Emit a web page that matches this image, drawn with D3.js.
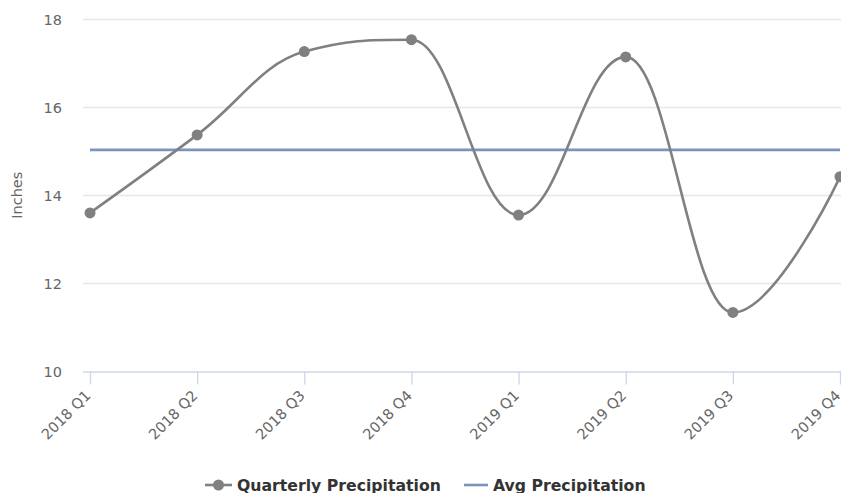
<!DOCTYPE html>
<html>
<head>
<meta charset="utf-8">
<script src="https://cdn.jsdelivr.net/npm/d3@7"></script>
<style>
  html, body { margin: 0; padding: 0; background: #fff; }
  svg { display: block; font-family: "DejaVu Sans", "Lucida Grande", sans-serif; }
</style>
</head>
<body>
<svg id="chart" width="841" height="493"></svg>
<script>
// ---- data ----
const categories = ["2018 Q1", "2018 Q2", "2018 Q3", "2018 Q4", "2019 Q1", "2019 Q2", "2019 Q3", "2019 Q4"];
const quarterlyPrecipitation = [13.6, 15.37, 17.26, 17.53, 13.55, 17.14, 11.34, 14.42];
const avgPrecipitation = [15.03, 15.03, 15.03, 15.03, 15.03, 15.03, 15.03, 15.03];
const yTicks = [10, 12, 14, 16, 18];
const seriesNames = ["Quarterly Precipitation", "Avg Precipitation"];
const yTitle = "Inches";

// ---- Highcharts-like spline curve ----
function HCSpline(context) { this._context = context; }
HCSpline.prototype = {
  areaStart() {}, areaEnd() {},
  lineStart() { this._pts = []; },
  point(x, y) { this._pts.push([+x, +y]); },
  lineEnd() {
    const p = this._pts, n = p.length, ctx = this._context;
    if (!n) return;
    const smoothing = 1.5, denom = smoothing + 1;
    const lc = p.map(d => d.slice()), rc = p.map(d => d.slice());
    for (let i = 1; i < n - 1; i++) {
      const [x, y] = p[i], [lx, ly] = p[i - 1], [nx, ny] = p[i + 1];
      let lcx = (smoothing * x + lx) / denom, lcy = (smoothing * y + ly) / denom;
      let rcx = (smoothing * x + nx) / denom, rcy = (smoothing * y + ny) / denom;
      let corr = 0;
      if (rcx !== lcx) corr = ((rcy - lcy) * (rcx - x)) / (rcx - lcx) + y - rcy;
      lcy += corr; rcy += corr;
      if (lcy > ly && lcy > y) { lcy = Math.max(ly, y); rcy = 2 * y - lcy; }
      else if (lcy < ly && lcy < y) { lcy = Math.min(ly, y); rcy = 2 * y - lcy; }
      if (rcy > ny && rcy > y) { rcy = Math.max(ny, y); lcy = 2 * y - rcy; }
      else if (rcy < ny && rcy < y) { rcy = Math.min(ny, y); lcy = 2 * y - rcy; }
      lc[i] = [lcx, lcy]; rc[i] = [rcx, rcy];
    }
    ctx.moveTo(p[0][0], p[0][1]);
    for (let i = 1; i < n; i++) {
      ctx.bezierCurveTo(rc[i - 1][0], rc[i - 1][1], lc[i][0], lc[i][1], p[i][0], p[i][1]);
    }
  }
};
const curveHC = ctx => new HCSpline(ctx);

// ---- layout ----
const svg = d3.select("#chart");
const plotLeft = 83, plotRight = 841, plotTop = 19, plotBottom = 371.5;

const x = d3.scalePoint().domain(categories).range([90, 840]);
const y = d3.scaleLinear().domain([10, 18]).range([plotBottom, plotTop]);

// gridlines
svg.append("g").selectAll("line").data(yTicks.filter(t => t !== 10)).join("line")
  .attr("x1", plotLeft).attr("x2", plotRight)
  .attr("y1", d => Math.round(y(d)) + 0.5).attr("y2", d => Math.round(y(d)) + 0.5)
  .attr("stroke", "#e6e6e6").attr("stroke-width", 1.3);

// y axis labels
const yAxis = d3.axisLeft(y).tickValues(yTicks).tickSize(0).tickPadding(0);
const gy = svg.append("g").attr("transform", `translate(62,0)`).call(yAxis);
gy.select(".domain").remove();
gy.selectAll("text").attr("fill", "#666").style("font-size", "14.5px")
  .style("font-family", '"DejaVu Sans", sans-serif').attr("dy", "0.35em");

// x axis
const xAxis = d3.axisBottom(x).tickSize(13).tickPadding(0).tickSizeOuter(0);
const gx = svg.append("g").attr("transform", `translate(0,${plotBottom})`).call(xAxis);
gx.select(".domain").attr("d", `M${plotLeft},0.5H${plotRight}`).attr("stroke", "#ccd6eb").attr("stroke-width", 1.3);
gx.selectAll(".tick line").attr("stroke", "#ccd6eb").attr("stroke-width", 1.3);
gx.selectAll(".tick text")
  .attr("fill", "#666").style("font-size", "14.5px").style("font-family", '"DejaVu Sans", sans-serif')
  .attr("text-anchor", "end").attr("y", 0).attr("dy", 0)
  .attr("transform", "translate(1,25) rotate(-45)");

// y title
svg.append("text")
  .attr("transform", `translate(22,${(plotTop + plotBottom) / 2}) rotate(-90)`)
  .attr("text-anchor", "middle").attr("fill", "#666").style("font-size", "14.5px")
  .text(yTitle);

// avg line
const straight = d3.line().x((d, i) => x(categories[i])).y(d => y(d));
svg.append("path").datum(avgPrecipitation).attr("d", straight)
  .attr("fill", "none").attr("stroke", "#7b93bf").attr("stroke-width", 2.6);

// quarterly spline
const spline = d3.line().x((d, i) => x(categories[i])).y(d => y(d)).curve(curveHC);
svg.append("path").datum(quarterlyPrecipitation).attr("d", spline)
  .attr("fill", "none").attr("stroke", "#808080").attr("stroke-width", 2.6);

svg.append("g").selectAll("circle").data(quarterlyPrecipitation).join("circle")
  .attr("cx", (d, i) => x(categories[i])).attr("cy", d => y(d))
  .attr("r", 5.5).attr("fill", "#808080");

// legend
const legend = svg.append("g");
const ly = 485;
// item 1
legend.append("line").attr("x1", 205).attr("x2", 232).attr("y1", ly).attr("y2", ly)
  .attr("stroke", "#808080").attr("stroke-width", 2.6);
legend.append("circle").attr("cx", 218.5).attr("cy", ly).attr("r", 5.5).attr("fill", "#808080");
legend.append("text").attr("x", 237).attr("y", ly + 5.5).attr("fill", "#333")
  .style("font-size", "15.7px").style("font-weight", "bold").text(seriesNames[0]);
// item 2
legend.append("line").attr("x1", 464).attr("x2", 488).attr("y1", ly).attr("y2", ly)
  .attr("stroke", "#7b93bf").attr("stroke-width", 2.6);
legend.append("text").attr("x", 493).attr("y", ly + 5.5).attr("fill", "#333")
  .style("font-size", "15.7px").style("font-weight", "bold").text(seriesNames[1]);
</script>
</body>
</html>
